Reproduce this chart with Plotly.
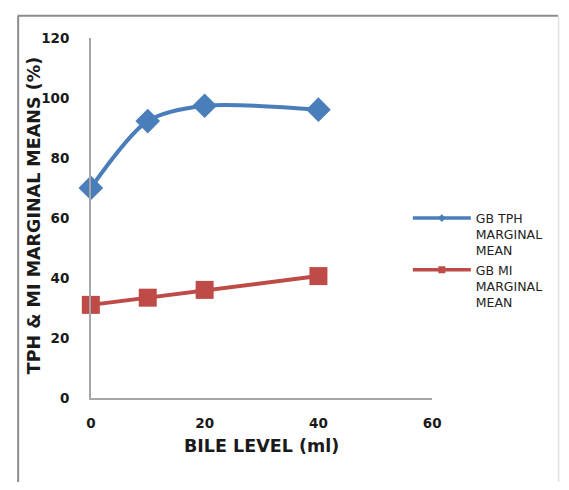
import plotly.graph_objects as go

W, H = 569, 490

bile_level = [0, 10, 20, 40]
gb_tph_mean = [70.0, 92.3, 97.4, 96.1]
gb_mi_mean = [31.0, 33.4, 36.0, 40.6]

x_ticks = [0, 20, 40, 60]
y_ticks = [0, 20, 40, 60, 80, 100, 120]

tph_name = "GB TPH<br>MARGINAL<br>MEAN"
mi_name = "GB MI<br>MARGINAL<br>MEAN"

BLUE = "#4a7ebb"
RED = "#be4b48"
FONT = "DejaVu Sans, Verdana, sans-serif"

# plot area in pixels
px_left, px_right, px_top, px_bottom = 88, 438, 31, 403

fig = go.Figure()
fig.add_trace(go.Scatter(
    x=bile_level, y=gb_tph_mean, mode="lines+markers", showlegend=False,
    line=dict(color=BLUE, width=4, shape="spline", smoothing=0.8),
    marker=dict(symbol="diamond", size=19, color=BLUE),
    cliponaxis=False,
))
fig.add_trace(go.Scatter(
    x=bile_level, y=gb_mi_mean, mode="lines+markers", showlegend=False,
    line=dict(color=RED, width=4),
    marker=dict(symbol="square", size=18, color=RED),
    cliponaxis=False,
))
# legend entries with small markers
fig.add_trace(go.Scatter(
    x=[None], y=[None], mode="lines+markers", name=tph_name,
    line=dict(color=BLUE, width=3.5), marker=dict(symbol="diamond", size=6, color=BLUE),
))
fig.add_trace(go.Scatter(
    x=[None], y=[None], mode="lines+markers", name=mi_name,
    line=dict(color=RED, width=3.5), marker=dict(symbol="square", size=7, color=RED),
))

fig.update_layout(
    width=W, height=H,
    margin=dict(l=0, r=0, t=0, b=0),
    paper_bgcolor="white", plot_bgcolor="white",
    font=dict(family=FONT, color="#1a1a1a"),
    showlegend=True,
    legend=dict(
        x=413 / W, y=1 - 202 / H, xanchor="left", yanchor="top",
        font=dict(size=12.5, family=FONT, color="#222"),
        bgcolor="rgba(0,0,0,0)", itemwidth=58, tracegroupgap=2, valign="top",
    ),
    xaxis=dict(
        domain=[px_left / W, px_right / W],
        range=[0, 60], tickvals=x_ticks,
        showgrid=False, zeroline=False,
        showline=True, linecolor="#a6a6a6", linewidth=1.5,
        ticks="", ticklabelstandoff=12,
        tickfont=dict(size=13.5, family=FONT, color="#1a1a1a", weight="bold"),
    ),
    yaxis=dict(
        domain=[1 - px_bottom / H, 1 - px_top / H],
        range=[0, 120], tickvals=y_ticks,
        showgrid=False, zeroline=False,
        showline=True, linecolor="#a6a6a6", linewidth=1.5,
        ticks="", ticklabelstandoff=17,
        tickfont=dict(size=13.5, family=FONT, color="#1a1a1a", weight="bold"),
    ),
    annotations=[
        dict(text="<b>BILE LEVEL (ml)</b>", xref="paper", yref="paper",
             x=263 / W, y=1 - 453 / H, xanchor="center", yanchor="middle",
             showarrow=False, font=dict(size=17.5, family=FONT, color="#1a1a1a")),
        dict(text="<b>TPH & MI MARGINAL MEANS (%)</b>", xref="paper", yref="paper",
             x=30 / W, y=1 - 215 / H, xanchor="center", yanchor="middle",
             showarrow=False, textangle=-90,
             font=dict(size=17.5, family=FONT, color="#1a1a1a")),
    ],
    shapes=[
        dict(type="line", xref="paper", yref="paper", x0=13 / W, x1=567 / W,
             y0=1 - 8 / H, y1=1 - 8 / H, line=dict(color="#8c8c8c", width=2)),
        dict(type="line", xref="paper", yref="paper", x0=13.5 / W, x1=13.5 / W,
             y0=0, y1=1 - 8 / H, line=dict(color="#8c8c8c", width=2)),
        dict(type="line", xref="paper", yref="paper", x0=567.5 / W, x1=567.5 / W,
             y0=0, y1=1 - 8 / H, line=dict(color="#e0e0e0", width=1.5)),
    ],
)

fig.write_html("out.html")
